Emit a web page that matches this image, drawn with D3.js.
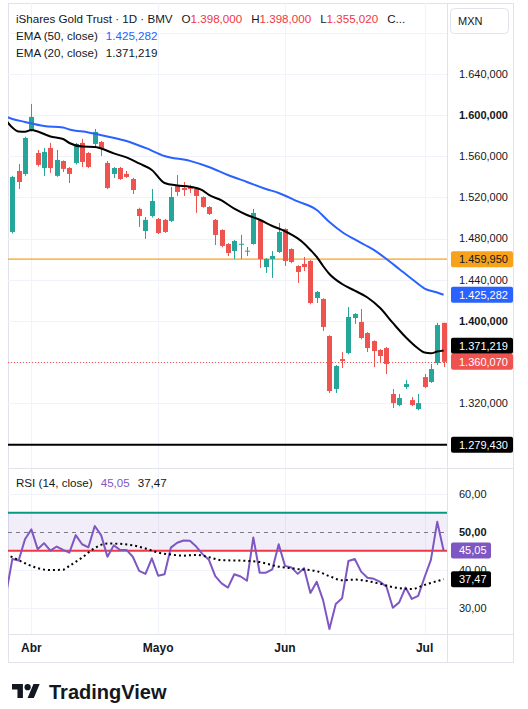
<!DOCTYPE html>
<html>
<head>
<meta charset="utf-8">
<script src="https://cdn.jsdelivr.net/npm/d3@7/dist/d3.min.js"></script>
<style>
  body { margin: 0; background: #fff; }
  svg { display: block; font-family: "Liberation Sans", Arial, sans-serif; }
</style>
</head>
<body>
<svg id="chart" width="528" height="709"></svg>
<script>
// daily candles, MXN (bar 0 .. 68)
var opens = [1486.4,1545.7,1542.8,1585.6,1563.2,1548.6,1568.1,1540.9,1555.4,1548.6,
  1553.5,1573.0,1563.2,1572.0,1573.9,1553.5,1542.8,1548.6,1542.8,1537.9,
  1508.8,1487.3,1501.9,1499.0,1498.1,1497.1,1531.1,1529.2,1530.2,1528.2,
  1520.4,1510.7,1498.1,1488.3,1474.7,1467.9,1474.2,1467.5,1474.7,1498.1,
  1452.3,1460.1,1466.9,1489.3,1469.8,1453.3,1455.3,1458.2,1422.2,1421.2,
  1385.2,1333.7,1362.8,1368.7,1402.7,1398.8,1388.1,1380.3,1371.6,1373.5,
  1328.8,1318.1,1335.6,1322.9,1314.2,1345.3,1340.5,1358.9,1398.0];
var highs = [1541.0,1552.5,1579.0,1610.9,1566.2,1568.1,1573.0,1566.2,1556.0,1549.5,
  1573.0,1576.9,1564.0,1586.6,1575.0,1555.4,1549.5,1549.6,1545.7,1539.0,
  1510.0,1501.0,1528.2,1500.0,1499.0,1530.2,1541.8,1535.0,1532.1,1529.0,
  1521.0,1511.5,1499.0,1489.0,1475.5,1478.5,1483.5,1471.8,1508.8,1499.0,
  1461.0,1467.9,1495.1,1490.0,1470.5,1454.0,1462.1,1459.0,1429.0,1422.0,
  1386.0,1357.0,1369.6,1413.4,1407.5,1411.5,1389.0,1381.0,1372.5,1374.5,
  1333.7,1328.8,1342.4,1325.9,1328.8,1348.3,1358.0,1398.0,1398.0];
var lows = [1485.0,1528.2,1541.0,1584.0,1550.0,1540.9,1543.8,1540.0,1544.7,1534.0,
  1552.0,1549.6,1548.5,1568.1,1560.3,1528.0,1538.9,1537.0,1539.0,1523.3,
  1491.3,1479.6,1500.5,1484.4,1485.5,1496.0,1521.4,1521.4,1524.3,1504.9,
  1510.0,1503.0,1473.7,1471.5,1463.0,1460.1,1460.1,1463.0,1474.0,1451.4,
  1446.5,1441.6,1466.0,1453.3,1456.0,1436.8,1448.4,1416.0,1417.3,1390.1,
  1329.8,1329.8,1354.1,1367.5,1396.9,1382.0,1369.6,1355.1,1358.9,1348.3,
  1315.2,1317.0,1333.7,1317.0,1313.0,1334.5,1339.5,1357.0,1355.02];
var closes = [1539.9,1535.0,1577.8,1598.3,1551.6,1564.2,1548.6,1556.4,1547.7,1542.8,
  1572.0,1554.5,1549.6,1583.7,1567.1,1529.2,1548.6,1537.9,1539.9,1527.2,
  1501.9,1498.1,1516.5,1485.4,1486.4,1520.4,1525.3,1527.2,1528.2,1521.4,
  1510.7,1503.9,1483.5,1472.8,1465.9,1477.6,1474.9,1468.2,1504.9,1460.1,
  1460.1,1463.0,1486.4,1458.2,1457.2,1447.5,1452.3,1417.3,1428.0,1394.0,
  1331.7,1356.0,1360.9,1403.7,1406.6,1383.3,1373.5,1370.6,1365.8,1358.0,
  1320.0,1324.9,1338.5,1318.1,1320.0,1335.6,1353.1,1395.9,1360.07];

// EMA lines: [bar, value]
var ema50 = [[-1,1598.5],[0,1596.3],[2,1593.4],[5,1589.5],[8,1588.0],[9,1586.1],[12,1583.2],
  [15,1579.3],[18,1574.9],[21,1568.1],[24,1560.3],[28,1555.5],[31,1549.6],[34,1541.8],
  [37,1535.0],[40,1528.2],[42,1524.3],[45,1516.1],[48,1507.8],[50,1496.1],[52,1486.4],
  [54,1479.1],[57,1468.9],[59,1460.1],[61,1450.4],[63,1440.7],[65,1431.4],[67,1427.5],[68,1425.282]];
var ema20 = [[-1,1594.9],[0,1588.0],[1,1584.1],[2,1583.9],[3,1585.6],[4,1584.1],[6,1579.3],
  [8,1576.8],[9,1572.9],[11,1569.4],[13,1569.1],[14,1567.6],[16,1562.8],[18,1558.9],
  [20,1553.0],[22,1546.7],[24,1534.0],[26,1531.6],[28,1530.4],[30,1526.8],[31,1522.4],
  [33,1517.0],[35,1509.0],[37,1502.9],[39,1498.3],[41,1492.2],[43,1487.1],[45,1480.1],
  [46,1475.2],[47,1468.9],[48,1462.1],[49,1453.3],[50,1445.5],[52,1435.8],[54,1429.3],
  [56,1422.7],[58,1412.4],[60,1397.9],[62,1384.2],[64,1373.0],[65,1369.1],[66,1368.4],
  [67,1370.1],[68,1371.219]];

// RSI(14) per bar, bar -1 is the day before the window
var rsiPrev = 33.4;
var rsi = [42.8,42.4,48.0,50.6,45.4,47.0,45.0,46.1,45.2,44.5,
  49.1,46.7,45.9,51.5,49.1,43.4,46.4,45.2,45.2,43.4,
  39.7,38.9,43.0,38.4,38.8,45.8,47.1,47.7,47.6,46.1,
  44.1,42.6,38.3,36.4,35.3,38.8,38.2,37.1,48.5,39.2,
  39.2,40.1,46.7,41.0,40.6,38.9,40.4,33.9,36.8,32.0,
  24.4,31.0,32.5,42.3,42.8,39.5,37.9,37.6,36.8,35.5,
  30.0,31.4,35.3,32.3,33.1,38.0,42.6,52.6,45.05];
var rsiMa = [[-1,44.0],[0,43.3],[2,41.7],[4,40.4],[6,39.9],[8,40.0],[9,41.0],[11,43.2],[13,45.7],
  [15,46.9],[17,46.8],[19,46.4],[21,45.6],[23,44.5],[25,44.0],[27,43.7],[29,43.9],[31,43.3],
  [33,42.5],[36,42.4],[39,42.0],[42,40.8],[45,40.2],[48,39.6],[50,38.3],[52,37.2],[54,37.4],
  [56,37.0],[58,36.3],[60,35.4],[62,35.0],[63,34.9],[65,36.0],[67,37.0],[68,37.47]];

var priceTicks = [1280,1320,1360,1400,1440,1480,1520,1560,1600,1640,1680];
var priceLabels = [1320,1360,1400,1440,1480,1520,1560,1600,1640];
var rsiTicks = [30,40,60];
var rsiLabels = [30,40,50,60];
var rsiBands = [55,45];
var monthBars = [3,23,43,65];
var monthNames = ["Abr","Mayo","Jun","Jul"];
var orangeLevel = 1459.95, blackLevel = 1279.43;

var loc = d3.formatLocale({decimal: ",", thousands: ".", grouping: [3], currency: ["", ""]});
var fp = loc.format(",.3f"), fr = loc.format(",.2f");

var UP = "#26a69a", DOWN = "#ef5350", GRID = "#f0f3fa", LINE = "#e0e3eb", TXT = "#131722";
var padL = 8, plotR = 447, axisR = 513, padT = 3, mainB = 468, rsiB = 634, frameB = 662;

var svg = d3.select("#chart");
var x = d3.scaleLinear().domain([-0.68, 68.54]).range([padL, plotR]);
var y = d3.scaleLinear().domain([1400, 1640]).range([320.8, 74]);
var yr = d3.scaleLinear().domain([50, 30]).range([531.7, 607.7]);

var defs = svg.append("defs");
defs.append("clipPath").attr("id", "cm").append("rect")
  .attr("x", padL).attr("y", padT).attr("width", plotR - padL).attr("height", mainB - padT);
defs.append("clipPath").attr("id", "cr").append("rect")
  .attr("x", padL).attr("y", mainB).attr("width", plotR - padL).attr("height", rsiB - mainB);

// frame
svg.append("rect").attr("x", padL + 0.5).attr("y", padT + 0.5)
  .attr("width", axisR - padL).attr("height", frameB - padT)
  .attr("fill", "#fff").attr("stroke", LINE);

// grid
svg.append("g").selectAll("line").data(monthBars).join("line")
  .attr("x1", function(d) { return Math.round(x(d)) + 0.5; })
  .attr("x2", function(d) { return Math.round(x(d)) + 0.5; })
  .attr("y1", padT).attr("y2", rsiB).attr("stroke", GRID);
svg.append("g").attr("clip-path", "url(#cm)").selectAll("line").data(priceTicks).join("line")
  .attr("x1", padL).attr("x2", plotR)
  .attr("y1", function(d) { return Math.round(y(d)) + 0.5; })
  .attr("y2", function(d) { return Math.round(y(d)) + 0.5; })
  .attr("stroke", GRID);
svg.append("g").selectAll("line").data(rsiTicks).join("line")
  .attr("x1", padL).attr("x2", plotR)
  .attr("y1", function(d) { return Math.round(yr(d)) + 0.5; })
  .attr("y2", function(d) { return Math.round(yr(d)) + 0.5; })
  .attr("stroke", GRID);

// separators
svg.append("line").attr("x1", plotR + 0.5).attr("x2", plotR + 0.5).attr("y1", padT).attr("y2", frameB).attr("stroke", LINE);
svg.append("line").attr("x1", padL).attr("x2", axisR).attr("y1", mainB + 0.5).attr("y2", mainB + 0.5).attr("stroke", LINE);
svg.append("line").attr("x1", padL).attr("x2", axisR).attr("y1", rsiB + 0.5).attr("y2", rsiB + 0.5).attr("stroke", LINE);

// ---- main pane ----
var main = svg.append("g").attr("clip-path", "url(#cm)");

main.append("line").attr("x1", padL).attr("x2", plotR)
  .attr("y1", y(orangeLevel)).attr("y2", y(orangeLevel))
  .attr("stroke", "#f7a21b").attr("stroke-width", 1.3);
main.append("line").attr("x1", padL).attr("x2", plotR)
  .attr("y1", y(blackLevel)).attr("y2", y(blackLevel))
  .attr("stroke", "#000").attr("stroke-width", 2);

var bars = d3.range(opens.length);
var cg = main.append("g").selectAll("g").data(bars).join("g");
cg.append("rect")
  .attr("x", function(i) { return Math.round(x(i)); })
  .attr("width", 1)
  .attr("y", function(i) { return y(highs[i]); })
  .attr("height", function(i) { return y(lows[i]) - y(highs[i]); })
  .attr("fill", function(i) { return closes[i] >= opens[i] ? UP : DOWN; });
cg.append("rect")
  .attr("x", function(i) { return Math.round(x(i)) - 2; })
  .attr("width", 5)
  .attr("y", function(i) { return y(Math.max(opens[i], closes[i])); })
  .attr("height", function(i) { return Math.max(1, Math.abs(y(opens[i]) - y(closes[i]))); })
  .attr("fill", function(i) { return closes[i] >= opens[i] ? UP : DOWN; });

var last = opens.length - 1;
main.append("line").attr("x1", padL).attr("x2", plotR)
  .attr("y1", Math.round(y(closes[last])) + 0.5).attr("y2", Math.round(y(closes[last])) + 0.5)
  .attr("stroke", DOWN).attr("stroke-dasharray", "1,2");

var emaLine = d3.line().x(function(d) { return x(d[0]); }).y(function(d) { return y(d[1]); })
  .curve(d3.curveMonotoneX);
main.append("path").attr("d", emaLine(ema50)).attr("fill", "none")
  .attr("stroke", "#2962ff").attr("stroke-width", 2);
main.append("path").attr("d", emaLine(ema20)).attr("fill", "none")
  .attr("stroke", "#000").attr("stroke-width", 2);

// ---- RSI pane ----
var rp = svg.append("g").attr("clip-path", "url(#cr)");
rp.append("rect").attr("x", padL).attr("width", plotR - padL)
  .attr("y", yr(rsiBands[0])).attr("height", yr(rsiBands[1]) - yr(rsiBands[0]))
  .attr("fill", "rgba(126,87,194,0.1)");
rp.append("line").attr("x1", padL).attr("x2", plotR)
  .attr("y1", Math.round(yr(50)) + 0.5).attr("y2", Math.round(yr(50)) + 0.5)
  .attr("stroke", "#787b86").attr("stroke-dasharray", "4,4");
rp.append("line").attr("x1", padL).attr("x2", plotR)
  .attr("y1", yr(rsiBands[0])).attr("y2", yr(rsiBands[0]))
  .attr("stroke", "#089981").attr("stroke-width", 2);
rp.append("line").attr("x1", padL).attr("x2", plotR)
  .attr("y1", yr(rsiBands[1])).attr("y2", yr(rsiBands[1]))
  .attr("stroke", "#f23645").attr("stroke-width", 2);

var rsiPts = [[-1, rsiPrev]].concat(rsi.map(function(v, i) { return [i, v]; }));
rp.append("path")
  .attr("d", d3.line().x(function(d) { return x(d[0]); }).y(function(d) { return yr(d[1]); })(rsiPts))
  .attr("fill", "none").attr("stroke", "#7e57c2").attr("stroke-width", 2)
  .attr("stroke-linejoin", "round");
rp.append("path")
  .attr("d", d3.line().x(function(d) { return x(d[0]); }).y(function(d) { return yr(d[1]); })
    .curve(d3.curveMonotoneX)(rsiMa))
  .attr("fill", "none").attr("stroke", "#000").attr("stroke-width", 2)
  .attr("stroke-dasharray", "2,3");

// ---- right scales ----
var ax = svg.append("g").attr("font-size", 11).attr("fill", TXT);
ax.selectAll("text.p").data(priceLabels).join("text").attr("class", "p")
  .attr("x", 459).attr("y", function(d) { return y(d); }).attr("dy", "0.35em")
  .attr("font-weight", function(d) { return d % 200 === 0 ? "bold" : null; })
  .text(fp);
ax.selectAll("text.r").data(rsiLabels).join("text").attr("class", "r")
  .attr("x", 459).attr("y", function(d) { return yr(d); }).attr("dy", "0.35em")
  .attr("font-weight", function(d) { return d === 50 ? "bold" : null; })
  .text(fr);

// price tags; the last price stays put, others are pushed off it
var lastY = y(closes[last]);
var tags = [
  {v: orangeLevel, bg: "#f7a21b", fg: TXT},
  {v: ema50[ema50.length - 1][1], bg: "#2962ff", fg: "#fff"},
  {v: ema20[ema20.length - 1][1], bg: "#000", fg: "#fff"},
  {v: closes[last], bg: DOWN, fg: "#fff"},
  {v: blackLevel, bg: "#000", fg: "#fff"}
];
tags.forEach(function(t) {
  var cy = y(t.v);
  if (t.v !== closes[last] && Math.abs(cy - lastY) < 16) cy = cy < lastY ? lastY - 16 : lastY + 16;
  t.cy = cy;
});
var tg = svg.append("g").selectAll("g").data(tags).join("g")
  .attr("transform", function(t) { return "translate(451," + t.cy + ")"; });
tg.append("rect").attr("y", -8).attr("width", 62).attr("height", 16).attr("rx", 2)
  .attr("fill", function(t) { return t.bg; });
tg.append("text").attr("x", 8).attr("dy", "0.35em").attr("font-size", 11)
  .attr("fill", function(t) { return t.fg; }).text(function(t) { return fp(t.v); });

var rtags = [
  {v: rsi[last], bg: "#7e57c2"},
  {v: rsiMa[rsiMa.length - 1][1], bg: "#000"}
];
var rg = svg.append("g").selectAll("g").data(rtags).join("g")
  .attr("transform", function(t) { return "translate(451," + yr(t.v) + ")"; });
rg.append("rect").attr("y", -8).attr("width", 40).attr("height", 16).attr("rx", 2)
  .attr("fill", function(t) { return t.bg; });
rg.append("text").attr("x", 8).attr("dy", "0.35em").attr("font-size", 11)
  .attr("fill", "#fff").text(function(t) { return fr(t.v); });

// currency button
svg.append("rect").attr("x", 450.5).attr("y", 8.5).attr("width", 58).attr("height", 25).attr("rx", 4)
  .attr("fill", "#fff").attr("stroke", LINE);
svg.append("text").attr("x", 458).attr("y", 21).attr("dy", "0.35em")
  .attr("font-size", 11).attr("fill", TXT).text("MXN");

// time axis
svg.append("g").selectAll("text").data(monthBars).join("text")
  .attr("x", function(d) { return x(d); }).attr("y", 652)
  .attr("text-anchor", "middle").attr("font-size", 12).attr("font-weight", "bold")
  .attr("fill", TXT).text(function(d, i) { return monthNames[i]; });

// legends
var lg = svg.append("g").attr("font-size", 11.6).attr("fill", TXT);
var l1 = lg.append("text").attr("x", 16).attr("y", 23);
l1.append("tspan").text("iShares Gold Trust \u00b7 1D \u00b7 BMV");
[["O", opens[last]], ["H", highs[last]], ["L", lows[last]]].forEach(function(p) {
  l1.append("tspan").attr("dx", 9).text(p[0]);
  l1.append("tspan").attr("fill", "#f23645").text(fp(p[1]));
});
l1.append("tspan").attr("dx", 9).text("C...");

var l2 = lg.append("text").attr("x", 16).attr("y", 40);
l2.append("tspan").text("EMA (50, close)");
l2.append("tspan").attr("dx", 8).attr("fill", "#2962ff").text(fp(ema50[ema50.length - 1][1]));
var l3 = lg.append("text").attr("x", 16).attr("y", 57);
l3.append("tspan").text("EMA (20, close)");
l3.append("tspan").attr("dx", 8).text(fp(ema20[ema20.length - 1][1]));

var l4 = lg.append("text").attr("x", 16).attr("y", 487);
l4.append("tspan").text("RSI (14, close)");
l4.append("tspan").attr("dx", 8).attr("fill", "#7e57c2").text(fr(rsi[last]));
l4.append("tspan").attr("dx", 8).text(fr(rsiMa[rsiMa.length - 1][1]));

// logo
var logo = svg.append("g").attr("transform", "translate(12,680.9) scale(0.78)").attr("fill", TXT);
logo.append("path").attr("d", "M14 22H7V11H0V4h14v18zM28 22h-8l7.5-18h8L28 22z");
logo.append("circle").attr("cx", 20).attr("cy", 8).attr("r", 4);
svg.append("text").attr("x", 49).attr("y", 699).attr("font-size", 20).attr("font-weight", "bold")
  .attr("fill", TXT).text("TradingView");
</script>
</body>
</html>
